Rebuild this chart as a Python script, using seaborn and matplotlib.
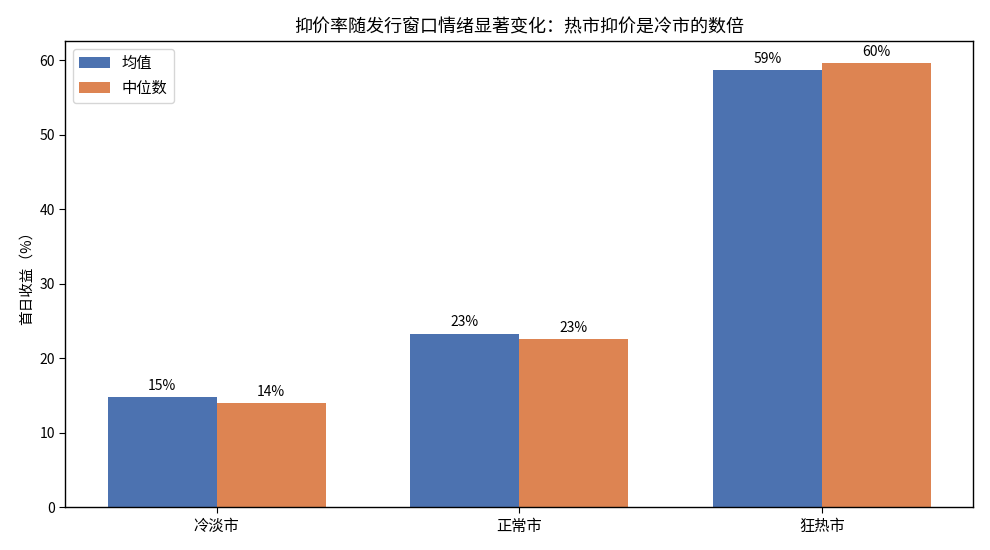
import pandas as pd
import matplotlib
matplotlib.use('Agg')
import matplotlib.pyplot as plt
import seaborn as sns

# Data
markets = ['冷淡市', '正常市', '狂热市']
mean_vals = [14.8, 23.3, 58.7]
median_vals = [14.0, 22.6, 59.6]
stat_names = ['均值', '中位数']

df = pd.DataFrame({
    'market': markets * 2,
    'stat': [stat_names[0]] * 3 + [stat_names[1]] * 3,
    'value': mean_vals + median_vals,
})

sns.set_style('white')
plt.rcParams['font.family'] = ['Noto Sans CJK SC', 'DejaVu Sans']
plt.rcParams['axes.unicode_minus'] = False
plt.rcParams['text.color'] = 'black'
plt.rcParams['axes.labelcolor'] = 'black'
plt.rcParams['xtick.color'] = 'black'
plt.rcParams['ytick.color'] = 'black'

fig, ax = plt.subplots(figsize=(9.9, 5.5), dpi=100)
sns.barplot(data=df, x='market', y='value', hue='stat', order=markets,
            hue_order=stat_names, palette=['#4C72B0', '#DD8452'],
            width=0.72, gap=0, saturation=1, errorbar=None, linewidth=0, ax=ax)

# Value labels on top of bars
for container in ax.containers:
    ax.bar_label(container, labels=[f'{v:.0f}%' for v in container.datavalues],
                 padding=3, fontsize=10)

ax.set_title('抑价率随发行窗口情绪显著变化：热市抑价是冷市的数倍', fontsize=13)
ax.set_xlabel('')
ax.set_ylabel('首日收益（%）', fontsize=10.5)
ax.tick_params(axis='y', labelsize=10, length=4, left=True)
ax.tick_params(axis='x', labelsize=11, length=4, bottom=True)
for spine in ax.spines.values():
    spine.set_visible(True)
    spine.set_color('black')
    spine.set_linewidth(1)
ax.legend(title=None, loc='upper left', fontsize=11)

fig.subplots_adjust(left=0.066, right=0.983, top=0.925, bottom=0.078)
plt.savefig('out.png')
plt.close()
